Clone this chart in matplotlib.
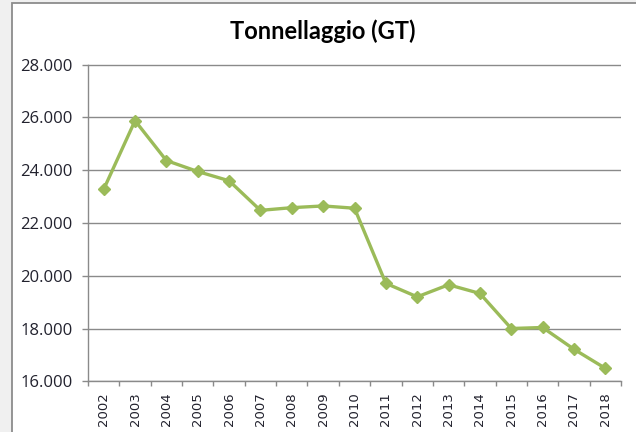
import numpy as np
import matplotlib
matplotlib.use('Agg')
import matplotlib.pyplot as plt
from matplotlib.ticker import FuncFormatter, FixedLocator
from matplotlib.patches import Rectangle

years = ['2002', '2003', '2004', '2005', '2006', '2007', '2008', '2009', '2010',
         '2011', '2012', '2013', '2014', '2015', '2016', '2017', '2018']
gt = [23272, 25872, 24362, 23947, 23596, 22475, 22577, 22642, 22556,
      19710, 19199, 19657, 19328, 18000, 18038, 17214, 16492]
yticks = [16000, 18000, 20000, 22000, 24000, 26000, 28000]

txt = '#22222e'
green = '#9bbb59'

fig = plt.figure(figsize=(6.36, 4.32), dpi=100, facecolor='#f0f0f0')
# chart frame (white area with grey border, cut at right/bottom)
fig.patches.append(Rectangle((11.5/636, -0.1), 1.2, 1 - 2.5/432 + 0.1, transform=fig.transFigure,
                             facecolor='white', edgecolor='#8c8c8c', lw=1.3, zorder=-5))
ax = fig.add_axes([88/636, 1 - 381.3/432, (621 - 88)/636, (381.3 - 64.5)/432])
ax.set_zorder(2)
ax.set_facecolor('none')

x = np.arange(len(years))
ax.plot(x, gt, color=green, lw=2.4, marker='D', ms=6, mec=green, mfc=green, zorder=3, clip_on=False)

ax.set_xlim(-0.5, len(years) - 0.5)
ax.set_ylim(16000, 28000)
ax.set_yticks(yticks)
ax.set_yticklabels([f'{v:,}'.replace(',', '.') for v in yticks],
                   fontsize=12, family='Open Sans', color=txt)
ax.grid(axis='y', color='#8a8a8a', lw=1.0, zorder=1)

ax.set_xticks(x)
ax.set_xticklabels(years, rotation=90, fontsize=9.5, family='DejaVu Sans', color=txt)
ax.xaxis.set_minor_locator(FixedLocator(np.arange(-0.5, len(years), 1.0)))
ax.tick_params(axis='x', which='major', length=0, pad=8)
ax.tick_params(axis='x', which='minor', length=3.8, width=1, color='#8a8a8a')
ax.tick_params(axis='y', length=4.3, width=1, color='#8a8a8a', pad=7)

for s in ['top', 'right']:
    ax.spines[s].set_visible(False)
for s in ['left', 'bottom']:
    ax.spines[s].set_color('#8a8a8a')
    ax.spines[s].set_linewidth(1.0)

fig.text(322.5/636, 1 - 31/432, 'Tonnellaggio (GT)', ha='center', va='center',
         fontsize=17, fontweight='bold', color='black', family='Lato')

fig.savefig('out.png', dpi=100, facecolor=fig.get_facecolor())
